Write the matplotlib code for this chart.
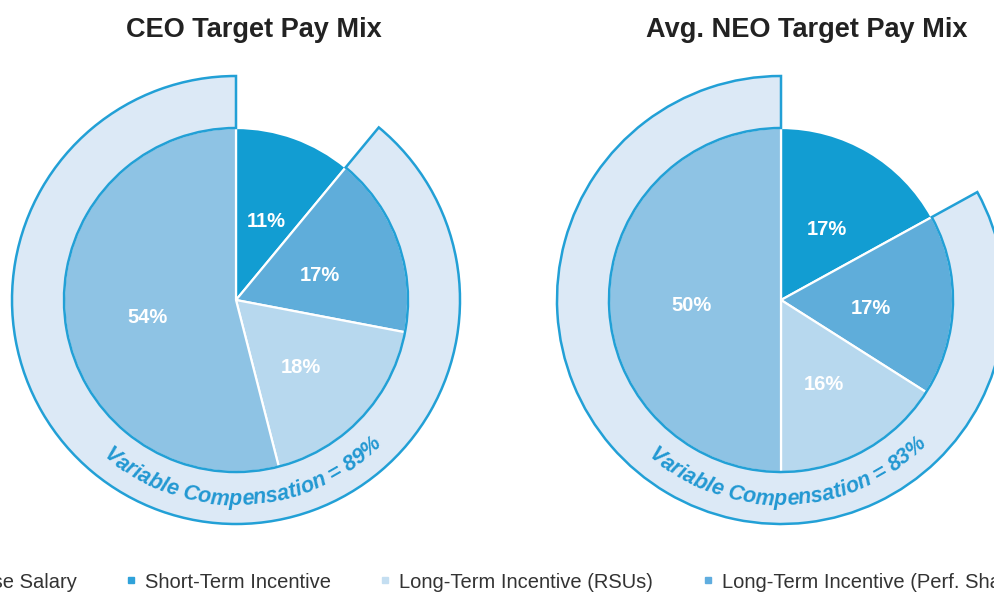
import matplotlib
matplotlib.use("Agg")
import matplotlib.pyplot as plt
from matplotlib.lines import Line2D
import numpy as np

plt.rcParams["font.family"] = ["Liberation Sans", "DejaVu Sans"]

# ---------------- data ----------------
slice_names = ["Short-Term Incentive", "Long-Term Incentive (Perf. Shares)",
               "Long-Term Incentive (RSUs)", "Base Salary"]
ceo_values = [11, 17, 18, 54]
neo_values = [17, 17, 16, 50]
ceo_variable = 89
neo_variable = 83
titles = ["CEO Target Pay Mix", "Avg. NEO Target Pay Mix"]
legend_labels = ["Base Salary", "Short-Term Incentive",
                 "Long-Term Incentive (RSUs)", "Long-Term Incentive (Perf. Shares)"]

# ---------------- style ----------------
slice_colors = ["#129DD2", "#5FADDA", "#B7D8EE", "#8EC3E4"]
legend_colors = ["#8EC3E4", "#2FA2DA", "#C4DEF1", "#5FADDF"]
ring_fill = "#DCE9F6"
ring_edge = "#22A0D6"
curve_color = "#2298D2"

W, H = 994, 594
fig = plt.figure(figsize=(W / 100, H / 100), dpi=100)
ax = fig.add_axes([0, 0, 1, 1])

R_PIE = 172
R_OUT = 224
centers = [(236, H - 300), (781, H - 300)]
title_x = [254, 807]


def curved_text(cx, cy, s, r, mid_deg, fs):
    props = dict(fontsize=fs, fontweight="bold", style="italic")
    renderer = fig.canvas.get_renderer()

    def width(t):
        tt = ax.text(0, 0, t, **props)
        w = tt.get_window_extent(renderer).width
        tt.remove()
        return w

    sent = "."
    ws = width(sent)
    total = width(s)
    for i, ch in enumerate(s):
        if ch == " ":
            continue
        left = width(s[:i] + sent) - ws if i > 0 else 0.0
        right = width(s[:i + 1] + sent) - ws
        c = 0.5 * (left + right) - total / 2
        th = np.deg2rad(mid_deg) + c / r
        x = cx + r * np.cos(th)
        y = cy + r * np.sin(th)
        ax.text(x, y, ch, rotation=np.rad2deg(th) + 90, rotation_mode="anchor",
                ha="center", va="baseline", color=curve_color, **props)


for k, (values, variable) in enumerate([(ceo_values, ceo_variable),
                                         (neo_values, neo_variable)]):
    cx, cy = centers[k]
    _, _, autotexts = ax.pie(values, colors=slice_colors, startangle=90,
                             counterclock=False, radius=R_PIE, center=(cx, cy),
                             autopct=lambda p: f"{p:.0f}%", pctdistance=0.52,
                             frame=True,
                             wedgeprops=dict(edgecolor="white", linewidth=1.6),
                             textprops=dict(color="white", fontsize=14.5,
                                            fontweight="bold"))
    for t in autotexts:
        px, py = t.get_position()
        t.set_position((px, py - 6))
    ring, _ = ax.pie([100 - variable, variable], colors=["none", ring_fill],
                     startangle=90, counterclock=False, radius=R_OUT,
                     center=(cx, cy), frame=True,
                     wedgeprops=dict(width=R_OUT - R_PIE, edgecolor=ring_edge,
                                     linewidth=1.8))
    ring[0].set_visible(False)
    ax.text(title_x[k], H - 37, titles[k], fontsize=19.5, fontweight="bold",
            ha="center", va="baseline", color="#222222")
    curved_text(cx, cy, f"Variable Compensation = {variable}%", 205, -87.5, 15.5)

ax.set_xlim(0, W)
ax.set_ylim(0, H)
ax.set_aspect("equal")
ax.axis("off")

handles = [Line2D([], [], ls="", marker="s", ms=5, mfc=c, mec=c) for c in legend_colors]
leg = fig.legend(handles, legend_labels, ncol=4, loc="center left",
                 bbox_to_anchor=(0, 12 / H), frameon=False, fontsize=14.5,
                 handlelength=0.7, handletextpad=0.35, columnspacing=2.35,
                 borderpad=0, borderaxespad=0, labelcolor="#333333")
fig.canvas.draw()
bb = leg.get_texts()[1].get_window_extent(fig.canvas.get_renderer())
shift = 145 - bb.x0
leg.set_bbox_to_anchor((shift / W, 12 / H))

fig.savefig("out.png", dpi=100)
